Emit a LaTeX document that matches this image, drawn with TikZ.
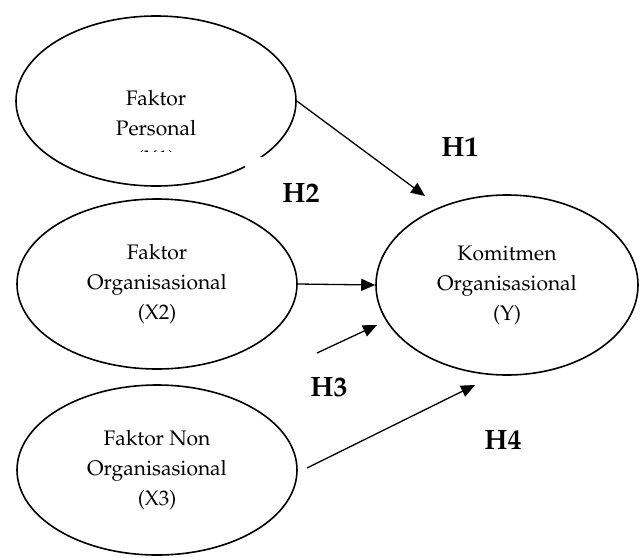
\documentclass[tikz,border=0pt]{standalone}
\usepackage[T1]{fontenc}
\usepackage{mathpazo}
\usetikzlibrary{positioning,shapes,arrows.meta}
\tikzset {
    style A/.style={
        draw=black,
        line width=0.8pt,
        ellipse, % Set the shape as an ellipse
        inner sep=0pt,
        minimum width=140pt,
        minimum height=85pt,
        align=center,
        font=\fontsize{10.5}{15}\selectfont,
    },
    style B/.style={
        draw=none,
        font=\fontsize{14}{16}\selectfont\bfseries,
    },
    style C/.style={
        line width=0.65pt,
        -{Triangle[length=7pt,width=6pt]},
    },
}

\begin{document}
\begin{tikzpicture}[x=0.5pt, y=-0.5pt]
\useasboundingbox (0,0) rectangle (641,557);

\node[style A] at (156,101) (personal) {};
\begin{scope}
\clip (16,16) rectangle (296,151);
\node[draw=none, align=center, font=\fontsize{10.5}{15}\selectfont] at (156,130) (personalTxt) {Faktor\\Personal\\(X1)};
\end{scope}
\node[style A] at (157,284) (organisasional) {Faktor\\Organisasional\\(X2)};
\node[style A] at (157,470) (nonOrganisasional) {Faktor Non\\Organisasional\\(X3)};
\node[style A, minimum width=131pt, minimum height=90pt] at (507,285) (komitmen) {Komitmen\\Organisasional\\(Y)};

\node[style B, fill=white, inner sep=0pt, minimum width=56pt, text height=22.5pt, text depth=7.5pt, anchor=base] at (301,202) (h2) {H2};
\node[style B] at (460,147) (h1) {H1};
\node[style B] at (329,387) (h3) {H3};
\node[style B] at (503,440) (h4) {H4};

\coordinate (h1End) at (425,196);
\coordinate (h3Start) at (317,353);
\coordinate (h3End) at (377,325);
\coordinate (h4Start) at (307,468);
\coordinate (h4End) at (475,385);

\draw[style C] (personal.east) -- (h1End);
\draw[style C] (organisasional.east) -- (komitmen.west);
\draw[style C] (h3Start) -- (h3End);
\draw[style C] (h4Start) -- (h4End);
\end{tikzpicture}
\end{document}
